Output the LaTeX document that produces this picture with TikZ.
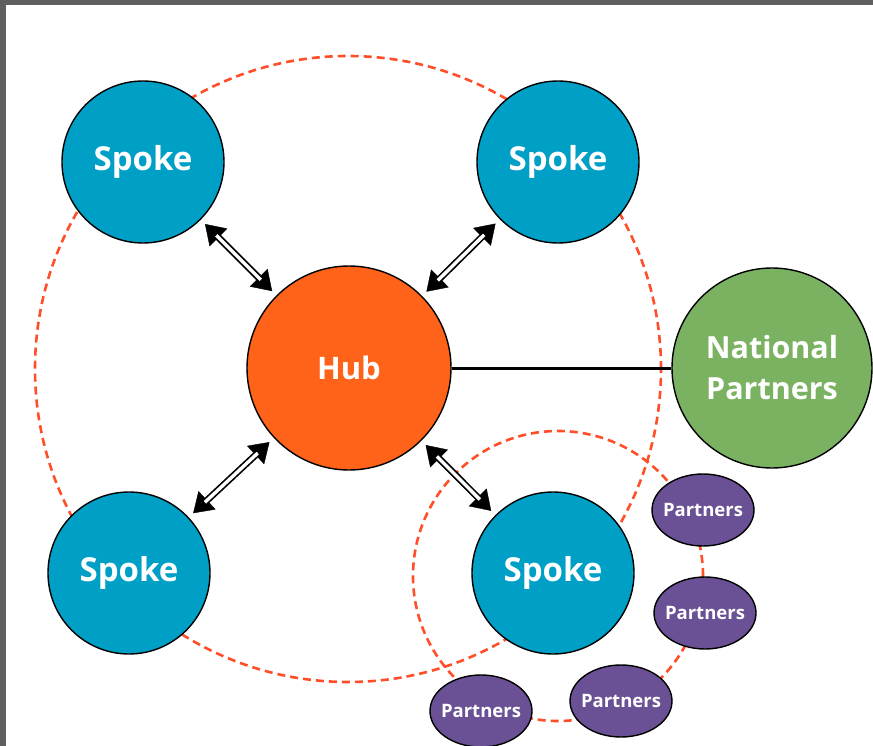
\documentclass[tikz,border=0pt]{standalone}
\usepackage{fontspec}
\setmainfont{Open Sans}
\usetikzlibrary{shapes.geometric,arrows.meta}
\definecolor{spokeblue}{HTML}{00A0C6}
\definecolor{hubor}{HTML}{FF6319}
\definecolor{npgreen}{HTML}{7BB262}
\definecolor{ppurple}{HTML}{6A5195}
\definecolor{dashred}{HTML}{FF4E28}
\definecolor{framegray}{HTML}{5F5F5F}
\tikzset{
  ring/.style={draw=dashred, line width=2.6pt, dash pattern=on 8pt off 5pt},
  blob/.style={circle, draw=black, line width=1.4pt, inner sep=0pt, text=white, font=\bfseries, align=center},
  spoke/.style={blob, fill=spokeblue, minimum size=162pt, font=\fontsize{33}{38}\selectfont\bfseries},
  hub/.style={blob, fill=hubor, minimum size=204pt, font=\fontsize{31}{36}\selectfont\bfseries},
  natl/.style={blob, fill=npgreen, minimum size=200pt, font=\fontsize{30.5}{41}\selectfont\bfseries},
  partner/.style={ellipse, draw=black, line width=1.4pt, fill=ppurple, minimum width=102pt, minimum height=72pt, inner sep=0pt, text=white, font=\fontsize{18.5}{22}\selectfont\bfseries},
  biarrow/.style={line width=0.4pt, {Triangle[length=19pt,width=25pt]}-{Triangle[length=19pt,width=25pt]}, shorten >=6pt, shorten <=6pt},
  shaft/.style={line width=1.7pt, double=white, double distance=3.4pt, shorten >=22pt, shorten <=22pt},
  link/.style={line width=3pt, draw=black}
}
\newcommand{\ptxt}{\makebox[0pt]{Partners}}
\begin{document}
\begin{tikzpicture}[x=1pt,y=-1pt]
\useasboundingbox (0,0) rectangle (873,746);
\fill[white] (0,0) rectangle (873,746);
% dashed rings
\coordinate (bigc) at (348,369);
\coordinate (smallc) at (558,576);
\draw[ring] (bigc) circle[radius=313pt];
\draw[ring] (smallc) circle[radius=145pt];
% nodes
\node[hub] (hub) at (349,368) {Hub};
\node[spoke] (s1) at (143,162) {Spoke};
\node[spoke] (s2) at (558,162) {Spoke};
\node[spoke] (s3) at (129,573) {Spoke};
\node[spoke] (s4) at (553,573) {Spoke};
\node[natl] (np) at (772,368) {National\\Partners};
\node[partner] (p1) at (703,510) {\ptxt};
\node[partner] (p2) at (705,613) {\ptxt};
\node[partner] (p3) at (621,701) {\ptxt};
\node[partner] (p4) at (481,711) {\ptxt};
% connectors
\draw[link] (hub) -- (np);
\foreach \s in {s1,s2,s3,s4}{
  \draw[biarrow] (hub) -- (\s);
  \draw[shaft] (hub) -- (\s);
}
% frame
\fill[framegray] (0,0) rectangle (873,5);
\fill[framegray] (0,0) rectangle (6,746);
\end{tikzpicture}
\end{document}
